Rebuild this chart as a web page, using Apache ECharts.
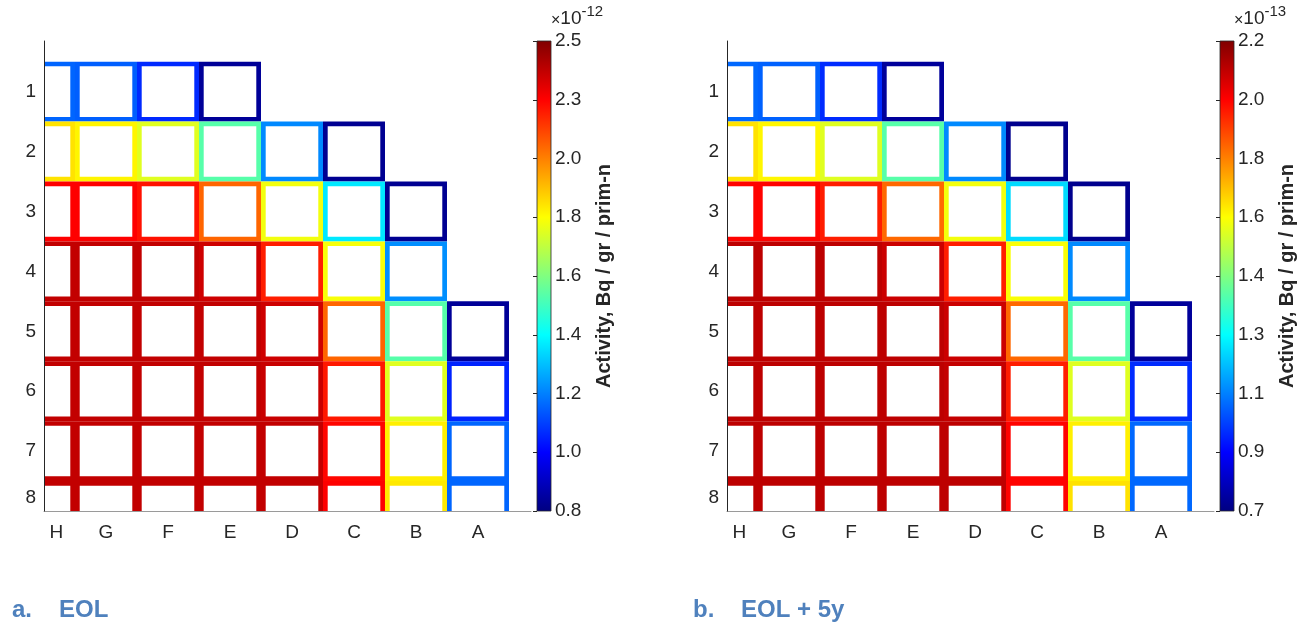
<!DOCTYPE html>
<html><head><meta charset="utf-8">
<script src="https://cdn.jsdelivr.net/npm/echarts@6/dist/echarts.min.js"></script>
<style>html,body{margin:0;padding:0;background:#fff}#c{width:1312px;height:624px}</style>
</head><body><div id="c"></div>
<script>
const colLabels = ['H','G','F','E','D','C','B','A'];
const rowLabels = ['1','2','3','4','5','6','7','8'];
// EOL activity, x1e-12 Bq/gr/prim-n (rows 1..8, columns H..A)
const eol = [
 [1.18,1.17,1.08,0.84,null,null,null,null],
 [1.91,1.88,1.81,1.58,1.24,0.83,null,null],
 [2.29,2.29,2.26,2.12,1.84,1.40,0.83,null],
 [2.39,2.39,2.39,2.37,2.24,1.85,1.25,null],
 [2.39,2.39,2.39,2.39,2.37,2.12,1.58,0.84],
 [2.39,2.39,2.39,2.39,2.38,2.25,1.81,1.07],
 [2.39,2.39,2.39,2.39,2.39,2.28,1.89,1.18],
 [2.39,2.39,2.39,2.39,2.39,2.29,1.90,1.18]
];
// EOL + 5y activity, x1e-13 Bq/gr/prim-n
const eol5 = [
 [1.04,1.03,0.95,0.74,null,null,null,null],
 [1.68,1.65,1.59,1.39,1.09,0.72,null,null],
 [2.01,2.01,1.97,1.86,1.62,1.21,0.72,null],
 [2.11,2.11,2.11,2.09,1.97,1.63,1.09,null],
 [2.11,2.11,2.11,2.11,2.09,1.86,1.39,0.74],
 [2.11,2.11,2.11,2.11,2.10,1.97,1.59,0.95],
 [2.11,2.11,2.11,2.11,2.11,2.01,1.66,1.04],
 [2.11,2.11,2.11,2.11,2.11,2.01,1.68,1.04]
];
const eolRange = [0.8, 2.5];
const eol5Range = [0.7, 2.2];
const eolTicks = [0.8,1.0125,1.225,1.4375,1.65,1.8625,2.075,2.2875,2.5];
const eolTickLabels = ['0.8','1.0','1.2','1.4','1.6','1.8','2.0','2.3','2.5'];
const eol5Ticks = [0.7,0.8875,1.075,1.2625,1.45,1.6375,1.825,2.0125,2.2];
const eol5TickLabels = ['0.7','0.9','1.1','1.3','1.4','1.6','1.8','2.0','2.2'];
const colTickPos = [1.2,2,3,4,5,6,7,8];
const rowTickPos = [1,2,3,4,5,6,7,7.78];
const jet = ['#000080','#0000ff','#0080ff','#00ffff','#80ff80','#ffff00','#ff8000','#ff0000','#800000'];

const FONT = '"Liberation Sans", Arial, Helvetica, sans-serif';
const TXT = '#262626';
const CAP = '#4f81bd';

function toData(m){
  const out = [];
  m.forEach((row, r) => row.forEach((v, c) => { if (v !== null) out.push([c+1, r+1, v]); }));
  return out;
}
function cellSeries(ai, data){
  return {
    type:'custom', xAxisIndex: ai, yAxisIndex: ai, clip: true, data: data,
    encode:{x:0, y:1},
    renderItem(params, api){
      const c = api.coord([api.value(0), api.value(1)]);
      const s = api.size([1,1]);
      const lw = 4.7;
      return {type:'rect', shape:{x:c[0]-s[0]/2+lw/2, y:c[1]-s[1]/2+lw/2, width:s[0]-lw, height:s[1]-lw},
        style:{fill:'none', stroke: api.visual('color'), lineWidth: lw}};
    }
  };
}
function barSeries(ai, range){
  return {
    type:'custom', xAxisIndex: ai, yAxisIndex: ai, data: [[0, range[0], range[1]]],
    renderItem(params, api){
      const p1 = api.coord([0, api.value(2)]);
      const p2 = api.coord([1, api.value(1)]);
      const stops = jet.slice().reverse().map((col, i) => ({offset: i/(jet.length-1), color: col}));
      return {type:'rect', shape:{x:p1[0], y:p1[1], width:p2[0]-p1[0], height:p2[1]-p1[1]},
        style:{fill: new echarts.graphic.LinearGradient(0,0,0,1,stops), stroke: TXT, lineWidth: 0.8}};
    }
  };
}
function mainX(gi){
  return {type:'value', gridIndex: gi, min:1, max:8.855,
    axisLine:{show:true, onZero:false, lineStyle:{color:'#9a9a9a', width:1}},
    axisTick:{show:false}, splitLine:{show:false},
    axisLabel:{customValues: colTickPos, formatter: v => colLabels[Math.round(v)-1], color: TXT, fontSize: 19, fontFamily: FONT, margin: 12}};
}
function mainY(gi){
  return {type:'value', gridIndex: gi, min:0.155, max:8, inverse:true, z: 5,
    axisLine:{show:true, onZero:false, lineStyle:{color:TXT, width:1}},
    axisTick:{show:false}, splitLine:{show:false},
    axisLabel:{customValues: rowTickPos, formatter: v => rowLabels[Math.round(v)-1], color: TXT, fontSize: 19, fontFamily: FONT, margin: 8}};
}
function cbX(gi){
  return {type:'value', gridIndex: gi, min:0, max:1, show:false};
}
function cbY(gi, range, ticks, labels, exp){
  return {type:'value', gridIndex: gi, position:'right', min: range[0], max: range[1],
    axisLine:{show:false}, splitLine:{show:false},
    axisTick:{show:true, inside:true, length:4, customValues: ticks, lineStyle:{color: TXT}},
    axisLabel:{customValues: ticks, color: TXT, fontSize: 19, fontFamily: FONT, margin: 4,
      formatter: v => { let k = 0; ticks.forEach((t,i)=>{ if (Math.abs(t-v) < Math.abs(ticks[k]-v)) k = i; }); return labels[k]; }},
    name: '{a|×}{c|10}{b|' + exp + '}', nameLocation:'end', nameGap: 8,
    nameTextStyle:{align:'left', padding:[0,0,0,14], rich:{
      a:{fontSize:16, color:TXT, fontFamily:FONT, verticalAlign:'bottom', lineHeight:24},
      c:{fontSize:19, color:TXT, fontFamily:FONT, verticalAlign:'bottom', lineHeight:24},
      b:{fontSize:15, color:TXT, fontFamily:FONT, verticalAlign:'top', lineHeight:24, padding:[0,0,12,0]}}}
  };
}
function cbTitleY(gi, range){
  return {type:'value', gridIndex: gi, position:'right', min: range[0], max: range[1],
    axisLine:{show:false}, axisTick:{show:false}, axisLabel:{show:false}, splitLine:{show:false},
    name:'Activity, Bq / gr / prim-n', nameLocation:'middle', nameRotate: 90, nameGap: 43,
    nameTextStyle:{fontSize: 20, fontWeight:'bold', color: TXT, fontFamily: FONT}};
}
function cap(text, left){
  return {text: text, left: left, top: 598, padding: 0,
    textStyle:{fontSize:24, fontWeight:'bold', color: CAP, fontFamily: FONT}};
}

const option = {
  backgroundColor:'#fff',
  animation:false,
  title:[cap('a.', 12), cap('EOL', 59), cap('b.', 693), cap('EOL + 5y', 741)],
  grid:[
    {left:44, top:41, width:487, height:470},
    {left:537, top:41, width:14, height:470},
    {left:727, top:41, width:487, height:470},
    {left:1220, top:41, width:14, height:470}
  ],
  xAxis:[mainX(0), cbX(1), mainX(2), cbX(3), cbX(1), cbX(3)],
  yAxis:[mainY(0), cbY(1, eolRange, eolTicks, eolTickLabels, '-12'), mainY(2), cbY(3, eol5Range, eol5Ticks, eol5TickLabels, '-13'),
         cbTitleY(1, eolRange), cbTitleY(3, eol5Range)],
  visualMap:[
    {show:false, type:'continuous', seriesIndex:0, dimension:2, min:eolRange[0], max:eolRange[1], inRange:{color: jet}},
    {show:false, type:'continuous', seriesIndex:2, dimension:2, min:eol5Range[0], max:eol5Range[1], inRange:{color: jet}}
  ],
  series:[
    cellSeries(0, toData(eol)),
    barSeries(1, eolRange),
    cellSeries(2, toData(eol5)),
    barSeries(3, eol5Range)
  ]
};
const chart = echarts.init(document.getElementById('c'), null, {renderer:'canvas'});
chart.setOption(option);
</script>
</body></html>
